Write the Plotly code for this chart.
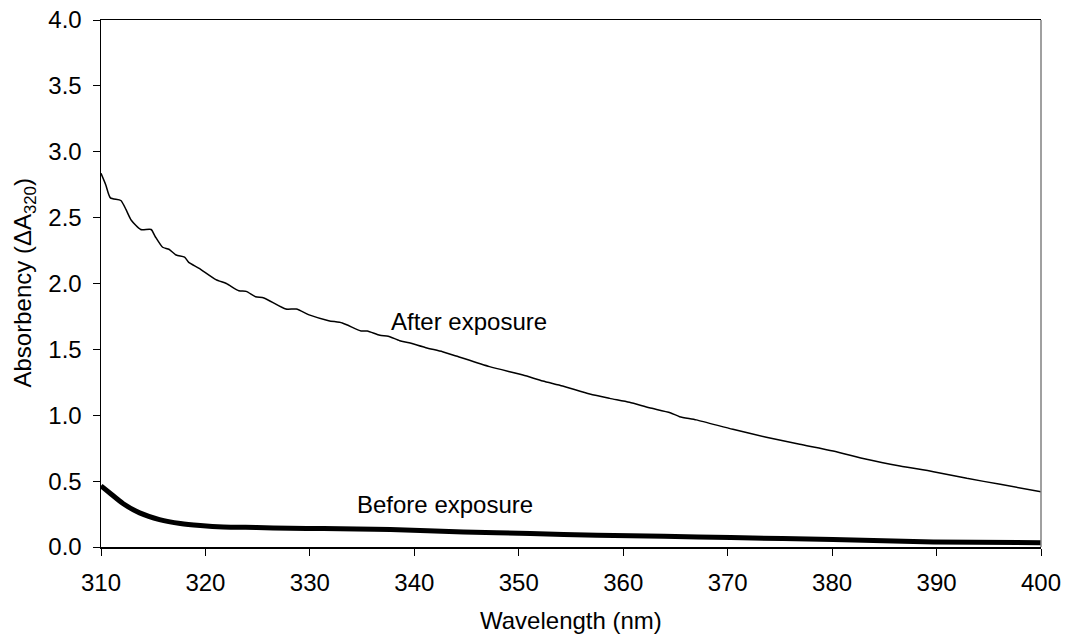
import plotly.graph_objects as go

# After exposure
after_wl = [310.0, 310.45, 310.9, 311.9, 312.4, 312.9, 313.8, 314.8, 315.2, 315.9, 316.5, 317.2,
            318.0, 318.4, 319.4, 321.0, 322.0, 323.2, 323.9, 324.8, 325.6, 327.7, 328.7, 330.0,
            331.8, 333.1, 334.9, 335.5, 336.7, 337.5, 338.6, 339.5, 341.1, 342.7, 344.0, 347.2,
            350.4, 352.3, 354.2, 356.8, 358.7, 360.6, 362.5, 364.5, 365.4, 367.0, 370.5, 373.7,
            376.9, 380.1, 383.3, 386.5, 389.7, 392.9, 396.1, 400.0]
after_abs = [2.836, 2.75, 2.65, 2.63, 2.56, 2.48, 2.41, 2.41, 2.355, 2.275, 2.26, 2.216,
             2.20, 2.16, 2.115, 2.03, 2.00, 1.945, 1.94, 1.90, 1.89, 1.806, 1.806, 1.76,
             1.718, 1.70, 1.64, 1.64, 1.607, 1.60, 1.566, 1.55, 1.513, 1.482, 1.45, 1.369,
             1.305, 1.26, 1.222, 1.161, 1.128, 1.098, 1.057, 1.019, 0.989, 0.965, 0.893, 0.833,
             0.78, 0.729, 0.666, 0.615, 0.572, 0.521, 0.476, 0.42]

# Before exposure
before_wl = [310.0, 310.9, 312.1, 313.7, 315.6, 317.6, 319.5, 321.7, 324.9, 328.1, 331.3, 334.5,
             337.7, 344.7, 351.1, 357.5, 363.9, 370.3, 380.1, 389.7, 400.0]
before_abs = [0.464, 0.406, 0.33, 0.259, 0.208, 0.178, 0.163, 0.152, 0.148, 0.142, 0.14, 0.137,
              0.132, 0.114, 0.102, 0.089, 0.081, 0.072, 0.056, 0.038, 0.033]

x_ticks = [310, 320, 330, 340, 350, 360, 370, 380, 390, 400]
y_ticks = [0.0, 0.5, 1.0, 1.5, 2.0, 2.5, 3.0, 3.5, 4.0]

FONT = "Liberation Sans, Arial, sans-serif"
FS = 24

fig = go.Figure()
fig.add_trace(go.Scatter(x=after_wl, y=after_abs, mode="lines",
                         line=dict(color="black", width=1.5, shape="spline", smoothing=0.6),
                         showlegend=False, hoverinfo="skip"))
fig.add_trace(go.Scatter(x=before_wl, y=before_abs, mode="lines",
                         line=dict(color="black", width=5, shape="spline", smoothing=0.6),
                         showlegend=False, hoverinfo="skip"))

fig.add_annotation(x=337.6, y=1.712, xref="x", yref="y", text="After exposure",
                   showarrow=False, xanchor="left", yanchor="middle",
                   font=dict(family=FONT, size=FS, color="black"))
fig.add_annotation(x=334.3, y=0.32, xref="x", yref="y", text="Before exposure",
                   showarrow=False, xanchor="left", yanchor="middle",
                   font=dict(family=FONT, size=FS, color="black"))

# axis titles
fig.add_annotation(x=(24 - 101) / 940, y=0.5, xref="paper", yref="paper",
                   text="Absorbency (ΔA<sub>320</sub>)", textangle=-90, showarrow=False,
                   xanchor="center", yanchor="middle",
                   font=dict(family=FONT, size=FS, color="black"))
fig.add_annotation(x=0.5, y=-0.139, xref="paper", yref="paper",
                   text="Wavelength (nm)", showarrow=False,
                   xanchor="center", yanchor="middle",
                   font=dict(family=FONT, size=FS, color="black"))

# right border (gray)
fig.add_shape(type="line", xref="paper", yref="paper", x0=1, x1=1, y0=0, y1=1,
              line=dict(color="#808080", width=1.5))

fig.update_xaxes(range=[310, 400], tickmode="array", tickvals=x_ticks,
                 ticktext=[str(v) for v in x_ticks],
                 ticks="outside", ticklen=7, tickwidth=1, tickcolor="black",
                 showline=True, linecolor="black", linewidth=1.5, mirror=True,
                 showgrid=False, zeroline=False, ticklabelstandoff=7,
                 tickfont=dict(family=FONT, size=FS, color="black"))
fig.update_yaxes(range=[0, 4.0], tickmode="array", tickvals=y_ticks,
                 ticktext=["%.1f" % v for v in y_ticks],
                 ticks="outside", ticklen=7, tickwidth=1, tickcolor="black",
                 showline=True, linecolor="black", linewidth=1.5,
                 showgrid=False, zeroline=False, ticklabelstandoff=6,
                 tickfont=dict(family=FONT, size=FS, color="black"))

fig.update_layout(width=1065, height=634, autosize=False,
                  margin=dict(l=101, r=24, t=20, b=87, autoexpand=False),
                  paper_bgcolor="white", plot_bgcolor="white",
                  font=dict(family=FONT, size=FS, color="black"))

fig.write_html("out.html", config={"displayModeBar": False, "staticPlot": True},
               post_script="document.body.style.margin='0';document.body.style.padding='0';")
